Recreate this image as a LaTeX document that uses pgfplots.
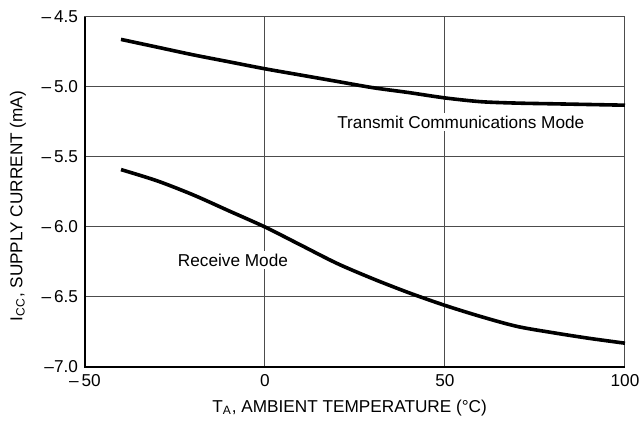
\documentclass[border=0pt]{standalone}
\usepackage{fontspec}
\setmainfont{Liberation Sans}
\usepackage{pgfplots}
\pgfplotsset{compat=1.18}
\begin{document}
\begin{tikzpicture}
\useasboundingbox (-42.5pt,-33.5pt) rectangle (277pt,183.5pt);
\begin{axis}[
  at={(0,0)}, anchor=south west,
  scale only axis, width=270pt, height=175pt,
  xmin=-50, xmax=100, ymin=-7, ymax=-4.5,
  xtick={-50,0,50,100},
  xticklabels={–\,50,0,50,100},
  ytick={-7,-6.5,-6,-5.5,-5,-4.5},
  yticklabels={–7.0,–\,6.5,–\,6.0,–\,5.5,–\,5.0,–\,4.5},
  major tick length=0pt,
  grid=major,
  major grid style={gray!60!black, line width=0.5pt},
  axis line style={gray!60!black, line width=0.5pt},
  ticklabel style={font=\fontsize{8.6}{10}\selectfont},
  label style={font=\fontsize{8.6}{10}\selectfont},
  xlabel={T\textsubscript{A}, AMBIENT TEMPERATURE (°C)},
  ylabel={I\textsubscript{CC}, SUPPLY CURRENT (mA)},
  xlabel style={at={(axis description cs:0.49,-0.117)}, anchor=center},
  ylabel style={at={(axis description cs:-0.124,0.46)}, anchor=center, rotate=0},
  clip=false,
]
\draw[black, line width=1.1pt] (rel axis cs:0,1) -- (rel axis cs:0,0) -- (rel axis cs:1,0);
\addplot[black, line width=1.8pt, smooth] coordinates {
(-40,-4.66) (-30,-4.715) (-20,-4.77) (-10,-4.82) (0,-4.87) (10,-4.915) (20,-4.96) (30,-5.005) (40,-5.04) (50,-5.078) (60,-5.105) (70,-5.115) (80,-5.12) (90,-5.125) (100,-5.13)
};
\addplot[black, line width=1.8pt, smooth] coordinates {
(-40,-5.59) (-30,-5.67) (-20,-5.77) (-10,-5.885) (0,-6.0) (10,-6.13) (20,-6.26) (30,-6.37) (40,-6.47) (50,-6.56) (60,-6.64) (70,-6.71) (80,-6.755) (90,-6.795) (100,-6.83)
};
\node[fill=white, inner sep=1.5pt, font=\fontsize{8.6}{10}\selectfont] at (axis cs:54.4,-5.25) {Transmit Communications Mode};
\node[fill=white, inner sep=1.5pt, font=\fontsize{8.6}{10}\selectfont] at (axis cs:-8.9,-6.236) {Receive Mode};
\end{axis}
\end{tikzpicture}
\end{document}
